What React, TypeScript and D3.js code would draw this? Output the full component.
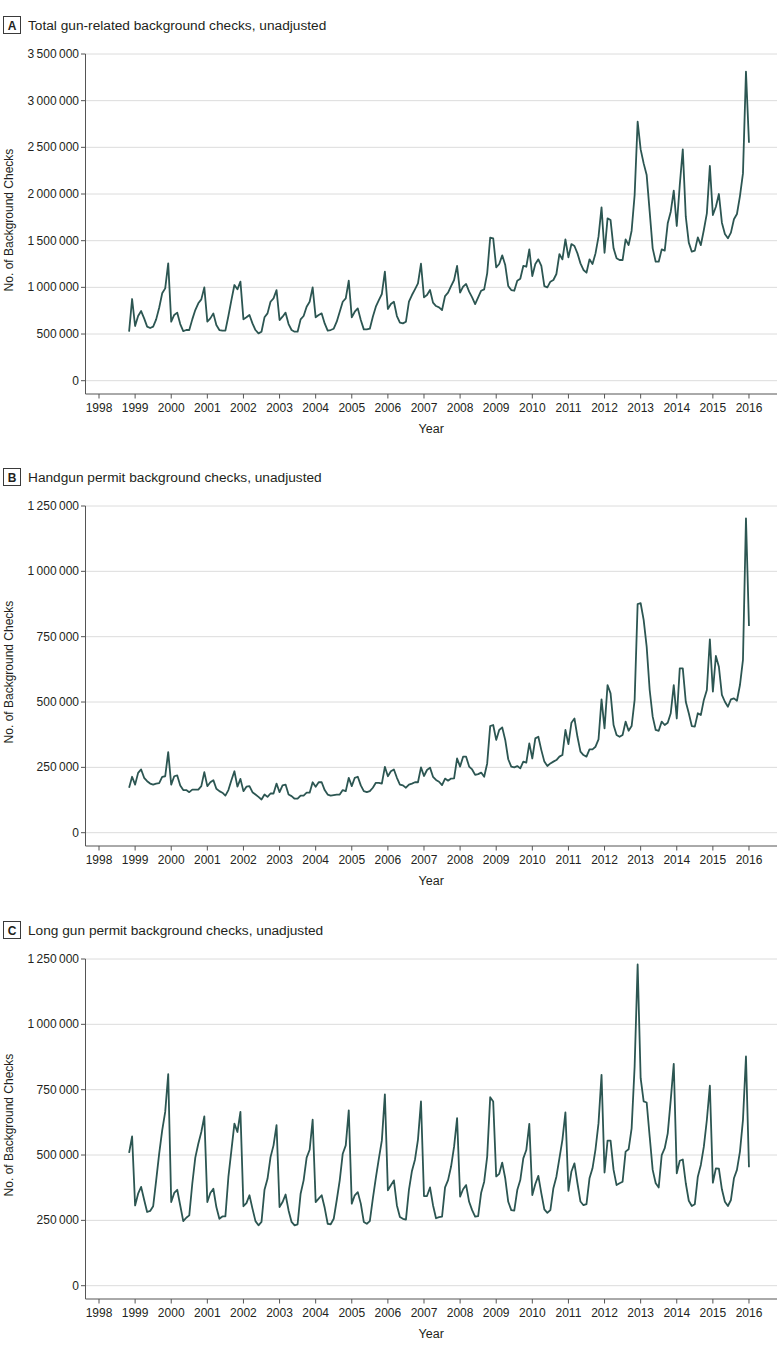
import React from "react";
import * as d3 from "d3";

// Monthly series, first value = November 1998, last value = January 2016
const START_YEAR = 1998;
const START_MONTH = 10; // 0-based month index (November)

const yearTicks = [1998, 1999, 2000, 2001, 2002, 2003, 2004, 2005, 2006, 2007, 2008, 2009, 2010, 2011, 2012, 2013, 2014, 2015, 2016];
const totalTicks = [0, 500000, 1000000, 1500000, 2000000, 2500000, 3000000, 3500000];
const permitTicks = [0, 250000, 500000, 750000, 1000000, 1250000];

const totalChecks = [
  525000, 875000,
  586000, 693000, 746000, 668000, 579000, 564000, 579000, 657000, 782000, 936000, 989000, 1257000,
  632000, 704000, 729000, 607000, 532000, 543000, 543000, 657000, 757000, 829000, 871000, 1000000,
  632000, 668000, 721000, 596000, 543000, 536000, 536000, 693000, 864000, 1025000, 979000, 1061000,
  657000, 679000, 704000, 614000, 543000, 507000, 525000, 679000, 721000, 846000, 882000, 971000,
  650000, 686000, 729000, 607000, 543000, 525000, 525000, 657000, 693000, 793000, 846000, 1000000,
  679000, 704000, 721000, 614000, 536000, 543000, 557000, 632000, 739000, 846000, 882000, 1071000,
  679000, 739000, 775000, 650000, 550000, 550000, 557000, 686000, 793000, 864000, 929000, 1168000,
  768000, 821000, 846000, 693000, 621000, 614000, 632000, 846000, 918000, 979000, 1043000, 1253000,
  893000, 918000, 971000, 836000, 800000, 786000, 757000, 907000, 943000, 1014000, 1079000, 1229000,
  943000, 1007000, 1036000, 954000, 893000, 821000, 893000, 964000, 979000, 1150000, 1532000, 1525000,
  1214000, 1250000, 1343000, 1239000, 1014000, 971000, 964000, 1071000, 1093000, 1229000, 1221000, 1407000,
  1121000, 1250000, 1300000, 1229000, 1014000, 1000000, 1061000, 1079000, 1143000, 1357000, 1300000, 1514000,
  1321000, 1464000, 1443000, 1364000, 1257000, 1186000, 1157000, 1300000, 1250000, 1364000, 1543000, 1857000,
  1371000, 1739000, 1721000, 1418000, 1311000, 1293000, 1293000, 1514000, 1453000, 1607000, 1989000, 2775000,
  2478000, 2328000, 2203000, 1811000, 1418000, 1275000, 1275000, 1407000, 1393000, 1686000, 1811000, 2036000,
  1657000, 2096000, 2478000, 1757000, 1479000, 1382000, 1393000, 1536000, 1453000, 1614000, 1793000, 2300000,
  1775000, 1864000, 2000000, 1693000, 1571000, 1525000, 1586000, 1729000, 1786000, 1978000, 2221000, 3311000,
  2550000,
];

const handgunChecks = [
  172000, 214000,
  184000, 229000, 242000, 210000, 197000, 188000, 184000, 188000, 190000, 214000, 216000, 308000,
  184000, 216000, 219000, 181000, 163000, 163000, 155000, 165000, 165000, 165000, 178000, 232000,
  178000, 193000, 201000, 168000, 159000, 153000, 142000, 163000, 201000, 235000, 176000, 206000,
  159000, 176000, 178000, 155000, 146000, 137000, 127000, 146000, 137000, 150000, 150000, 188000,
  155000, 181000, 184000, 146000, 140000, 130000, 130000, 142000, 142000, 153000, 153000, 193000,
  176000, 193000, 193000, 163000, 146000, 142000, 144000, 146000, 146000, 163000, 159000, 210000,
  178000, 210000, 214000, 181000, 159000, 155000, 159000, 172000, 191000, 191000, 188000, 252000,
  216000, 235000, 242000, 210000, 184000, 181000, 172000, 184000, 188000, 193000, 193000, 250000,
  217000, 240000, 249000, 214000, 202000, 195000, 182000, 207000, 199000, 207000, 208000, 284000,
  253000, 291000, 291000, 253000, 242000, 221000, 224000, 230000, 214000, 265000, 408000, 412000,
  355000, 393000, 403000, 355000, 281000, 253000, 250000, 255000, 246000, 272000, 268000, 342000,
  284000, 361000, 367000, 316000, 272000, 255000, 265000, 272000, 278000, 291000, 297000, 393000,
  339000, 421000, 437000, 367000, 310000, 297000, 291000, 319000, 319000, 329000, 357000, 510000,
  399000, 565000, 533000, 412000, 374000, 367000, 374000, 425000, 390000, 408000, 508000, 875000,
  878000, 814000, 712000, 546000, 444000, 393000, 390000, 425000, 412000, 421000, 457000, 565000,
  437000, 629000, 629000, 501000, 457000, 408000, 406000, 457000, 450000, 508000, 546000, 740000,
  540000, 676000, 635000, 527000, 501000, 482000, 510000, 514000, 505000, 565000, 661000, 1203000,
  791000,
];

const longGunChecks = [
  508000, 571000,
  307000, 352000, 378000, 329000, 282000, 286000, 304000, 403000, 505000, 594000, 665000, 809000,
  320000, 355000, 367000, 307000, 247000, 260000, 269000, 390000, 490000, 543000, 588000, 648000,
  320000, 355000, 371000, 301000, 256000, 265000, 265000, 416000, 518000, 620000, 588000, 665000,
  304000, 316000, 346000, 295000, 247000, 231000, 244000, 367000, 409000, 492000, 537000, 614000,
  301000, 320000, 349000, 288000, 244000, 231000, 235000, 352000, 403000, 490000, 520000, 635000,
  320000, 333000, 346000, 298000, 237000, 235000, 256000, 327000, 403000, 505000, 537000, 671000,
  314000, 346000, 358000, 314000, 244000, 237000, 247000, 333000, 413000, 486000, 556000, 732000,
  365000, 384000, 403000, 307000, 263000, 256000, 253000, 367000, 439000, 482000, 559000, 705000,
  343000, 343000, 376000, 308000, 258000, 262000, 264000, 376000, 404000, 456000, 532000, 641000,
  341000, 369000, 385000, 321000, 289000, 264000, 266000, 356000, 398000, 494000, 721000, 705000,
  418000, 428000, 471000, 411000, 321000, 289000, 287000, 366000, 404000, 487000, 519000, 619000,
  347000, 389000, 420000, 353000, 292000, 279000, 289000, 373000, 417000, 487000, 558000, 663000,
  363000, 437000, 468000, 392000, 322000, 308000, 312000, 411000, 449000, 522000, 622000, 807000,
  433000, 555000, 555000, 443000, 385000, 392000, 398000, 513000, 522000, 602000, 839000, 1229000,
  794000, 705000, 701000, 571000, 443000, 392000, 376000, 500000, 526000, 583000, 711000, 849000,
  430000, 478000, 483000, 392000, 325000, 305000, 312000, 417000, 462000, 532000, 634000, 765000,
  394000, 449000, 448000, 369000, 321000, 305000, 328000, 411000, 443000, 513000, 634000, 877000,
  453000,
];

const panelLetters = ["A", "B", "C"];
const panelTitles = [
  "Total gun-related background checks, unadjusted",
  "Handgun permit background checks, unadjusted",
  "Long gun permit background checks, unadjusted",
];

const W = 783;
const H = 1352;
const LEFT = 85.5;
const RIGHT = 777;
const PANEL_OFFSETS = [0, 452, 905];
const PLOT_TOP = 54;
const ZERO_Y = 380.7;
const AXIS_Y = 394;

const FONT = "'Liberation Sans', Arial, sans-serif";
const LINE_COLOR = "#2c5652";
const GRID = "#dcdcdc";
const AXIS = "#555";
const TEXT = "#231f20";

const fmt = (v: number) => d3.format(",")(v).replace(/,/g, "\u2009");

const xScale = d3
  .scaleLinear()
  .domain([1998 - (99 - LEFT) / 36.11, 1998 + (RIGHT - 99) / 36.11])
  .range([LEFT, RIGHT]);

function Panel({ index, data, ticks }: { index: number; data: number[]; ticks: number[] }) {
  const oy = PANEL_OFFSETS[index];
  const top = ticks[ticks.length - 1];
  const pxPerUnit = (ZERO_Y - PLOT_TOP) / top;
  const bottomVal = -(AXIS_Y - ZERO_Y) / pxPerUnit;
  const y = d3.scaleLinear().domain([bottomVal, top]).range([oy + AXIS_Y, oy + PLOT_TOP]);
  const pts = data.map((v, i) => ({ t: START_YEAR + (START_MONTH + i) / 12, v }));
  const line = d3
    .line<{ t: number; v: number }>()
    .x((d) => xScale(d.t))
    .y((d) => y(d.v));

  return (
    <g>
      <rect x={3.5} y={oy + 16.5} width={17} height={17} fill="#fff" stroke="#3a3a3a" strokeWidth={1} />
      <text x={12} y={oy + 29.5} textAnchor="middle" fontWeight="bold" fontSize={12} fill={TEXT}>
        {panelLetters[index]}
      </text>
      <text x={28} y={oy + 30} fontSize={13.7} fill={TEXT}>
        {panelTitles[index]}
      </text>
      {ticks.map((t) => (
        <g key={t}>
          <line x1={LEFT} x2={RIGHT} y1={y(t)} y2={y(t)} stroke={GRID} strokeWidth={1} />
          <line x1={81} x2={LEFT} y1={y(t)} y2={y(t)} stroke={AXIS} strokeWidth={1} />
          <text x={79} y={y(t) + 4} textAnchor="end" fontSize={12} fill={TEXT}>
            {fmt(t)}
          </text>
        </g>
      ))}
      <line x1={LEFT} x2={LEFT} y1={y(top)} y2={oy + AXIS_Y} stroke={AXIS} strokeWidth={1} />
      <line x1={LEFT} x2={RIGHT} y1={oy + AXIS_Y} y2={oy + AXIS_Y} stroke={AXIS} strokeWidth={1} />
      {yearTicks.map((yr) => (
        <g key={yr}>
          <line x1={xScale(yr)} x2={xScale(yr)} y1={oy + AXIS_Y} y2={oy + AXIS_Y + 4.5} stroke={AXIS} strokeWidth={1} />
          <text x={xScale(yr)} y={oy + AXIS_Y + 18} textAnchor="middle" fontSize={12} fill={TEXT}>
            {yr}
          </text>
        </g>
      ))}
      <text x={(LEFT + RIGHT) / 2} y={oy + 433} textAnchor="middle" fontSize={12.5} fill={TEXT}>
        Year
      </text>
      <text
        transform={`translate(13,${oy + 220}) rotate(-90)`}
        textAnchor="middle"
        fontSize={12}
        fill={TEXT}
      >
        No. of Background Checks
      </text>
      <path d={line(pts) || ""} fill="none" stroke={LINE_COLOR} strokeWidth={1.8} strokeLinejoin="round" />
    </g>
  );
}

export default function App() {
  const series = [totalChecks, handgunChecks, longGunChecks];
  const tickSets = [totalTicks, permitTicks, permitTicks];
  return (
    <svg
      width={W}
      height={H}
      viewBox={`0 0 ${W} ${H}`}
      style={{ position: "absolute", left: 0, top: 0, background: "#fff" }}
      fontFamily={FONT}
    >
      <rect x={0} y={0} width={W} height={H} fill="#fff" />
      {series.map((d, i) => (
        <Panel key={i} index={i} data={d} ticks={tickSets[i]} />
      ))}
    </svg>
  );
}
